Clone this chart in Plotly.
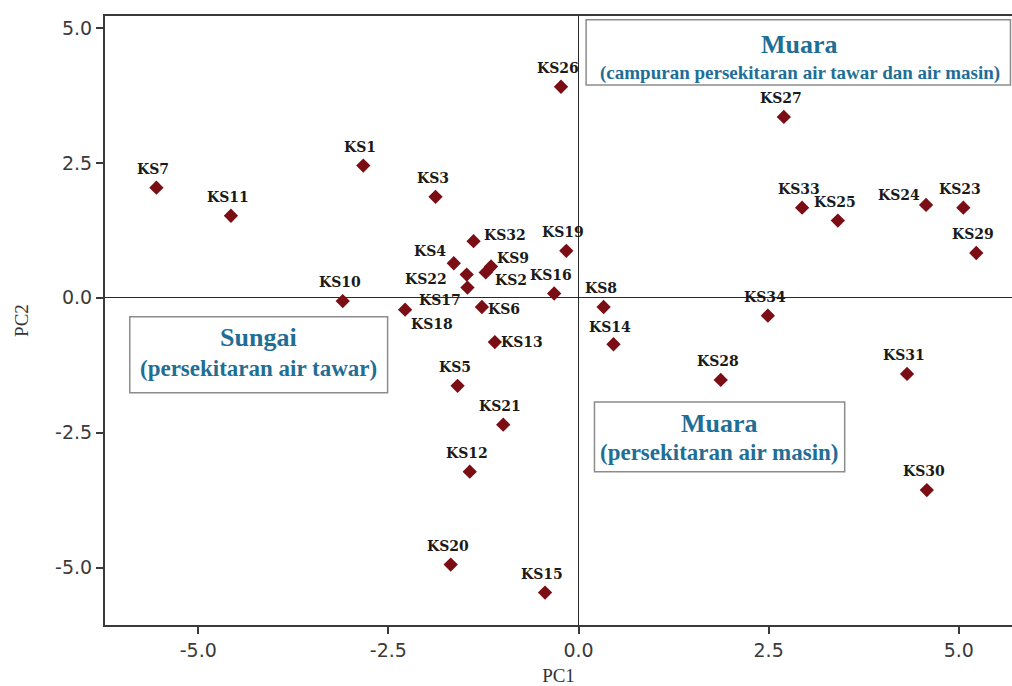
import plotly.graph_objects as go

# ---- data ----
stations = ["KS1", "KS2", "KS3", "KS4", "KS5", "KS6", "KS7", "KS8", "KS9", "KS10",
            "KS11", "KS12", "KS13", "KS14", "KS15", "KS16", "KS17", "KS18", "KS19", "KS20",
            "KS21", "KS22", "KS23", "KS24", "KS25", "KS26", "KS27", "KS28", "KS29", "KS30",
            "KS31", "KS32", "KS33", "KS34"]
pc1 = [-2.83, -1.22, -1.88, -1.64, -1.59, -1.27, -5.55, 0.33, -1.15, -3.10,
       -4.57, -1.43, -1.10, 0.46, -0.44, -0.32, -1.46, -2.28, -0.16, -1.68,
       -0.99, -1.47, 5.06, 4.57, 3.41, -0.23, 2.70, 1.87, 5.23, 4.58,
       4.32, -1.38, 2.94, 2.49]
pc2 = [2.45, 0.47, 1.87, 0.64, -1.63, -0.17, 2.04, -0.17, 0.58, -0.06,
       1.52, -3.22, -0.82, -0.86, -5.46, 0.08, 0.19, -0.22, 0.87, -4.94,
       -2.35, 0.43, 1.67, 1.72, 1.43, 3.91, 3.35, -1.52, 0.83, -3.56,
       -1.41, 1.05, 1.67, -0.33]

x_ticks = [-5.0, -2.5, 0.0, 2.5, 5.0]
y_ticks = [-5.0, -2.5, 0.0, 2.5, 5.0]

# label offsets in pixels (dx right, dy down) relative to the marker
default_offset = (-3, -19)
label_offsets = {
    "KS32": (31, -6), "KS4": (-24, -12), "KS9": (22, -9), "KS22": (-41, 4),
    "KS2": (25, 8), "KS17": (-27, 12), "KS6": (22, 2), "KS18": (27, 14),
    "KS13": (27, 0), "KS24": (-27, -10), "KS14": (-3, -17),
}

TEAL = "#1f6e96"
SERIF = "Liberation Serif, Times New Roman, serif"

fig = go.Figure()
fig.add_trace(go.Scatter(
    x=pc1, y=pc2, mode="markers",
    marker=dict(symbol="diamond", size=11, color="#7b0d14"),
    cliponaxis=False, showlegend=False, hoverinfo="text", text=stations,
))

for s, x, y in zip(stations, pc1, pc2):
    dx, dy = label_offsets.get(s, default_offset)
    fig.add_annotation(x=x, y=y, xref="x", yref="y", text=s, showarrow=False,
                       xanchor="center", yanchor="middle", xshift=dx, yshift=-dy,
                       font=dict(family="DejaVu Serif, serif", size=14, color="#1a1a1a",
                                 weight="bold"))

# region boxes
boxes = [
    dict(x0=0.10, x1=5.68, y0=3.94, y1=5.15),
    dict(x0=-5.90, x1=-2.51, y0=-1.76, y1=-0.35),
    dict(x0=0.21, x1=3.50, y0=-3.22, y1=-1.93),
]
for b in boxes:
    fig.add_shape(type="rect", xref="x", yref="y", x0=b["x0"], x1=b["x1"],
                  y0=b["y0"], y1=b["y1"], line=dict(color="#8c8c8c", width=1.5),
                  fillcolor="white", layer="below")

texts = [
    ("Muara", 2.91, 4.70, 26),
    ("(campuran persekitaran air tawar dan air masin)", 2.91, 4.17, 19),
    ("Sungai", -4.21, -0.74, 26),
    ("(persekitaran air tawar)", -4.21, -1.30, 23),
    ("Muara", 1.86, -2.33, 26),
    ("(persekitaran air masin)", 1.86, -2.87, 23),
]
for t, x, y, s in texts:
    fig.add_annotation(x=x, y=y, xref="x", yref="y", text="<b>" + t + "</b>",
                       showarrow=False, xanchor="center", yanchor="middle",
                       font=dict(family=SERIF, size=s, color=TEAL))

axis_common = dict(
    showgrid=False, zeroline=True, zerolinecolor="#2a2a2a", zerolinewidth=1.2,
    showline=True, linecolor="#3a3a3a", linewidth=2,
    ticks="outside", ticklen=7, tickwidth=1.5, tickcolor="#3a3a3a",
    tickfont=dict(family="DejaVu Sans, Verdana, sans-serif", size=19, color="#3a3a3a"),
)
fig.update_xaxes(range=[-6.226, 5.70], tickvals=x_ticks, ticktext=[f"{v:.1f}" for v in x_ticks],
                 mirror=True, title=dict(text="PC1", font=dict(family=SERIF, size=19, color="#333333"),
                                         standoff=11),
                 **axis_common)
fig.update_yaxes(range=[-6.06, 5.22], tickvals=y_ticks, ticktext=[f"{v:.1f}" for v in y_ticks],
                 mirror=False, title=dict(text="PC2", font=dict(family=SERIF, size=19, color="#333333"),
                                          standoff=21),
                 **axis_common)

fig.update_layout(
    width=1012, height=686,
    margin=dict(l=105, r=0, t=16, b=61),
    paper_bgcolor="white", plot_bgcolor="white",
)

fig.write_html("out.html", config={"displayModeBar": False},
               post_script="document.body.style.margin='0';document.body.style.overflow='hidden';")
